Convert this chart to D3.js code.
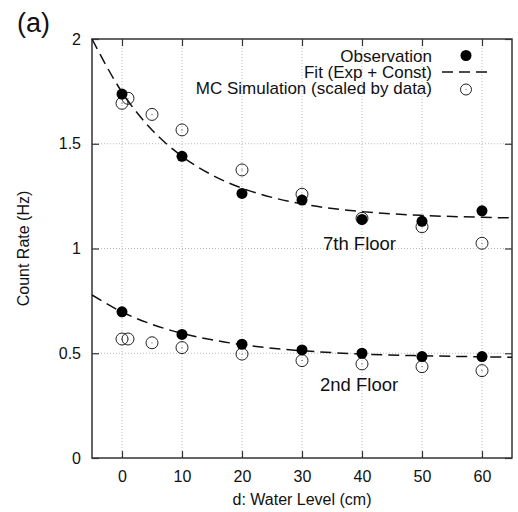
<!DOCTYPE html>
<html>
<head>
<meta charset="utf-8">
<script src="https://cdn.jsdelivr.net/npm/d3@7"></script>
<style>
  body { margin: 0; background: #fff; }
  svg text { font-family: "Liberation Sans", Arial, sans-serif; fill: #111; }
</style>
</head>
<body>
<script>
// observation (filled) and MC simulation (open) for both floors
const obsX = [0, 10, 20, 30, 40, 50, 60];
const obs7 = [1.737, 1.44, 1.263, 1.231, 1.139, 1.13, 1.18];
const obs2 = [0.698, 0.59, 0.543, 0.516, 0.50, 0.484, 0.484];

const mcX = [0, 1, 5, 10, 20, 30, 40, 50, 60];
const mc7 = [1.693, 1.717, 1.64, 1.566, 1.375, 1.259, 1.144, 1.104, 1.025];
const mc2 = [0.568, 0.568, 0.55, 0.527, 0.496, 0.465, 0.449, 0.436, 0.417];

// fit curves
const fitX = [-5, 0, 5, 10, 15, 20, 25, 30, 40, 50, 60, 65];
const fit7 = [2.0, 1.746, 1.566, 1.44, 1.351, 1.288, 1.244, 1.213, 1.176, 1.158, 1.149, 1.146];
const fit2 = [0.778, 0.697, 0.638, 0.595, 0.564, 0.541, 0.524, 0.512, 0.496, 0.488, 0.483, 0.481];

const xTicks = [0, 10, 20, 30, 40, 50, 60];
const yTicks = [0, 0.5, 1, 1.5, 2];

const w = 518, h = 512;
const mLeft = 92, mRight = 512, mTop = 39, mBottom = 458;

const x = d3.scaleLinear().domain([-5, 65]).range([mLeft, mRight]);
const y = d3.scaleLinear().domain([0, 2]).range([mBottom, mTop]);

const svg = d3.select("body").append("svg")
    .attr("width", w)
    .attr("height", h);

// grid
svg.append("g").selectAll("line")
    .data(xTicks)
    .enter().append("line")
    .attr("x1", d => x(d)).attr("x2", d => x(d))
    .attr("y1", mTop).attr("y2", mBottom)
    .attr("stroke", "#bbb").attr("stroke-dasharray", "1,2");
svg.append("g").selectAll("line")
    .data(yTicks.slice(1, -1))
    .enter().append("line")
    .attr("x1", mLeft).attr("x2", mRight)
    .attr("y1", d => y(d)).attr("y2", d => y(d))
    .attr("stroke", "#bbb").attr("stroke-dasharray", "1,2");

// axes with inward ticks on all sides
const tick = 7;
svg.append("g")
    .attr("transform", "translate(0," + mBottom + ")")
    .call(d3.axisBottom(x).tickValues(xTicks).tickSizeInner(-tick).tickSizeOuter(0).tickPadding(13));
svg.append("g")
    .attr("transform", "translate(" + mLeft + ",0)")
    .call(d3.axisLeft(y).tickValues(yTicks).tickFormat(d3.format("")).tickSizeInner(-tick).tickSizeOuter(0).tickPadding(11));
svg.append("g")
    .attr("transform", "translate(0," + mTop + ")")
    .call(d3.axisTop(x).tickValues(xTicks).tickSizeInner(-tick).tickSizeOuter(0).tickFormat(""));
svg.append("g")
    .attr("transform", "translate(" + mRight + ",0)")
    .call(d3.axisRight(y).tickValues(yTicks).tickSizeInner(-tick).tickSizeOuter(0).tickFormat(""));

svg.selectAll(".domain").remove();
svg.selectAll(".tick line").attr("stroke", "#333").attr("stroke-width", 1.2);
svg.selectAll(".tick text").attr("font-size", 16).style("font-family", "'Liberation Sans', Arial, sans-serif").attr("fill", "#111");

svg.append("rect")
    .attr("x", mLeft).attr("y", mTop)
    .attr("width", mRight - mLeft).attr("height", mBottom - mTop)
    .attr("fill", "none").attr("stroke", "#333").attr("stroke-width", 1.5);

// fit curves
const line = d3.line()
    .x(d => x(d[0]))
    .y(d => y(d[1]))
    .curve(d3.curveMonotoneX);
[fit7, fit2].forEach(f => {
    svg.append("path")
        .datum(fitX.map((v, i) => [v, f[i]]))
        .attr("d", line)
        .attr("fill", "none")
        .attr("stroke", "#111")
        .attr("stroke-width", 1.5)
        .attr("stroke-dasharray", "11,6");
});

// MC simulation (open circles)
function openCircles(xs, ys) {
    const g = svg.append("g");
    g.selectAll("circle.o")
        .data(xs.map((v, i) => [v, ys[i]]))
        .enter().append("circle")
        .attr("class", "o")
        .attr("cx", d => x(d[0])).attr("cy", d => y(d[1]))
        .attr("r", 6)
        .attr("fill", "none").attr("stroke", "#222").attr("stroke-width", 1);
    g.selectAll("circle.c")
        .data(xs.map((v, i) => [v, ys[i]]))
        .enter().append("circle")
        .attr("class", "c")
        .attr("cx", d => x(d[0])).attr("cy", d => y(d[1]))
        .attr("r", 0.6)
        .attr("fill", "#555");
}
openCircles(mcX, mc7);
openCircles(mcX, mc2);

// observations (filled circles)
[obs7, obs2].forEach(o => {
    svg.append("g").selectAll("circle")
        .data(obsX.map((v, i) => [v, o[i]]))
        .enter().append("circle")
        .attr("cx", d => x(d[0])).attr("cy", d => y(d[1]))
        .attr("r", 5.5)
        .attr("fill", "#000");
});

// labels
svg.append("text").attr("x", 323).attr("y", 250).attr("font-size", 18.5).text("7th Floor");
svg.append("text").attr("x", 320).attr("y", 391).attr("font-size", 18.5).text("2nd Floor");

svg.append("text").attr("x", 17).attr("y", 32).attr("font-size", 27).text("(a)");

svg.append("text")
    .attr("x", (mLeft + mRight) / 2).attr("y", 505)
    .attr("text-anchor", "middle").attr("font-size", 16)
    .text("d: Water Level (cm)");

svg.append("text")
    .attr("transform", "translate(29," + ((mTop + mBottom) / 2) + ") rotate(-90)")
    .attr("text-anchor", "middle").attr("font-size", 16)
    .text("Count Rate (Hz)");

// legend
const legendItems = ["Observation", "Fit (Exp + Const)", "MC Simulation (scaled by data)"];
const leg = svg.append("g");
legendItems.forEach((t, i) => {
    const ly = 62 + i * 16;
    leg.append("text")
        .attr("x", 432).attr("y", ly)
        .attr("text-anchor", "end").attr("font-size", 17)
        .text(t);
});
leg.append("circle").attr("cx", 466).attr("cy", 55.5).attr("r", 5.5).attr("fill", "#000");
leg.append("line")
    .attr("x1", 442).attr("x2", 491).attr("y1", 72).attr("y2", 72)
    .attr("stroke", "#111").attr("stroke-width", 1.5).attr("stroke-dasharray", "11,6");
leg.append("circle").attr("cx", 466).attr("cy", 89.5).attr("r", 5.5)
    .attr("fill", "none").attr("stroke", "#222").attr("stroke-width", 1);
leg.append("circle").attr("cx", 466).attr("cy", 89.5).attr("r", 0.6).attr("fill", "#555");
</script>
</body>
</html>
